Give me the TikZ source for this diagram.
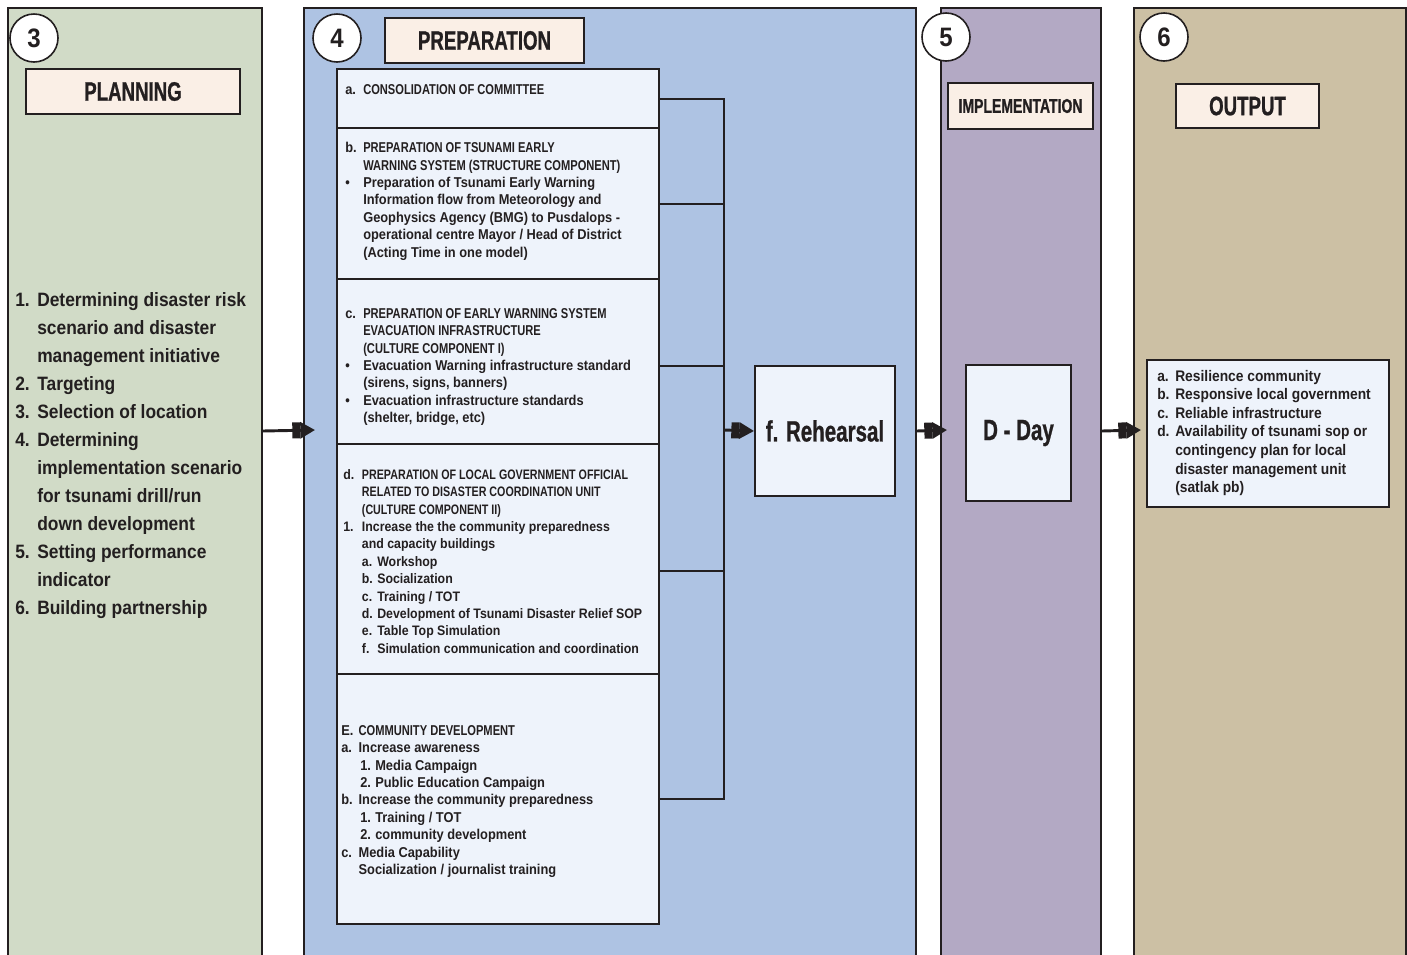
\documentclass[tikz,border=0pt]{standalone}
\usepackage{fontspec}
\setmainfont{Liberation Sans}[FakeStretch=0.9]
\newfontfamily\capsf{Liberation Sans}[FakeStretch=0.78]
\newfontfamily\headsf{Liberation Sans}[FakeStretch=0.7,FakeBold=0.8]
\usetikzlibrary{arrows.meta}
\definecolor{ink}{HTML}{231F20}
\definecolor{planbg}{HTML}{D1DBC7}
\definecolor{prepbg}{HTML}{AEC3E3}
\definecolor{implbg}{HTML}{B3A9C4}
\definecolor{outbg}{HTML}{CCC0A4}
\definecolor{cellbg}{HTML}{EEF3FB}
\definecolor{titlebg}{HTML}{FAEFE6}
% label of fixed width in front of a list line
\newcommand\itm[2][13.5pt]{\makebox[#1][l]{#2}}
\begin{document}
\begin{tikzpicture}[x=0.75pt, y=-0.75pt,
  sz/.style 2 args={minimum width=#1*0.75pt, minimum height=#2*0.75pt},
  panel/.style={draw=ink, line width=1.5pt, anchor=north west, inner sep=0},
  cell/.style={draw=ink, line width=1.5pt, fill=cellbg, anchor=north west, inner sep=0},
  headbox/.style={draw=ink, line width=1.5pt, fill=titlebg, anchor=north west, inner sep=0,
    text=ink, font=\headsf\bfseries\fontsize{20}{22}\selectfont},
  badge/.style={circle, draw=ink, line width=1.2pt, fill=white, minimum size=36pt,
    inner sep=0, text=ink, font=\bfseries\fontsize{20}{20}\selectfont},
  txt/.style={anchor=north west, align=left, inner sep=0, text=ink},
  prep/.style={txt, font=\bfseries\fontsize{10.7}{13.05}\selectfont},
  wire/.style={draw=ink, line width=1.5pt},
  arr/.style={draw=ink, line width=2.2pt,
    -{Rectangle[length=6pt,width=12pt]Triangle[length=11pt,width=12pt]}}
]
\useasboundingbox (0,0) rectangle (1407,954);

% the four stage columns
\node[panel, fill=planbg, sz={254}{963}] (p3) at (7,7) {};
\node[panel, fill=prepbg, sz={612}{963}] (p4) at (303,7) {};
\node[panel, fill=implbg, sz={160}{963}] (p5) at (940,7) {};
\node[panel, fill=outbg,  sz={272}{963}] (p6) at (1133,7) {};

% stage titles
\node[headbox, sz={214}{45}] (t3) at (25,68) {PLANNING};
\node[headbox, sz={199}{45}] (t4) at (384,17) {PREPARATION};
\node[headbox, sz={145}{46}, font=\headsf\bfseries\fontsize{15}{17}\selectfont] (t5) at (947,82) {IMPLEMENTATION};
\node[headbox, sz={143}{44}] (t6) at (1175,83) {OUTPUT};

% stage numbers
\node[badge] (n3) at (34,38) {3};
\node[badge] (n4) at (337,38) {4};
\node[badge] (n5) at (946,37) {5};
\node[badge] (n6) at (1164,37) {6};

% planning list
\node[txt, font=\bfseries\fontsize{14.5}{21}\selectfont] (plan) at (15,292) {%
\itm[16.5pt]{1.}Determining disaster risk\\
\itm[16.5pt]{}scenario and disaster\\
\itm[16.5pt]{}management initiative\\
\itm[16.5pt]{2.}Targeting\\
\itm[16.5pt]{3.}Selection of location\\
\itm[16.5pt]{4.}Determining\\
\itm[16.5pt]{}implementation scenario\\
\itm[16.5pt]{}for tsunami drill/run\\
\itm[16.5pt]{}down development\\
\itm[16.5pt]{5.}Setting performance\\
\itm[16.5pt]{}indicator\\
\itm[16.5pt]{6.}Building partnership};

% preparation cells
\node[cell, sz={322}{59}]  (ca) at (336,68) {};
\node[cell, sz={322}{151}] (cb) at (336,127) {};
\node[cell, sz={322}{165}] (cc) at (336,278) {};
\node[cell, sz={322}{230}] (cd) at (336,443) {};
\node[cell, sz={322}{250}] (ce) at (336,673) {};

\node[prep] (ta) at (345,84) {\itm{a.}{\capsf CONSOLIDATION OF COMMITTEE}};
\node[prep] (tb) at (345,142) {%
\itm{b.}{\capsf PREPARATION OF TSUNAMI EARLY}\\
\itm{}{\capsf WARNING SYSTEM (STRUCTURE COMPONENT)}\\
\itm{\textbullet}Preparation of Tsunami Early Warning\\
\itm{}Information flow from Meteorology and\\
\itm{}Geophysics Agency (BMG) to Pusdalops -\\
\itm{}operational centre Mayor / Head of District\\
\itm{}(Acting Time in one model)};
\node[prep] (tc) at (345,308) {%
\itm{c.}{\capsf PREPARATION OF EARLY WARNING SYSTEM}\\
\itm{}{\capsf EVACUATION INFRASTRUCTURE}\\
\itm{}{\capsf (CULTURE COMPONENT I)}\\
\itm{\textbullet}Evacuation Warning infrastructure standard\\
\itm{}(sirens, signs, banners)\\
\itm{\textbullet}Evacuation infrastructure standards\\
\itm{}(shelter, bridge, etc)};
\node[prep, font=\bfseries\fontsize{10.3}{13.05}\selectfont] (td) at (343,469) {%
\itm[14pt]{d.}{\capsf PREPARATION OF LOCAL GOVERNMENT OFFICIAL}\\
\itm[14pt]{}{\capsf RELATED TO DISASTER COORDINATION UNIT}\\
\itm[14pt]{}{\capsf (CULTURE COMPONENT II)}\\
\itm[14pt]{1.}Increase the the community preparedness\\
\itm[14pt]{}and capacity buildings\\
\itm[14pt]{}\itm[11.5pt]{a.}Workshop\\
\itm[14pt]{}\itm[11.5pt]{b.}Socialization\\
\itm[14pt]{}\itm[11.5pt]{c.}Training / TOT\\
\itm[14pt]{}\itm[11.5pt]{d.}Development of Tsunami Disaster Relief SOP\\
\itm[14pt]{}\itm[11.5pt]{e.}Table Top Simulation\\
\itm[14pt]{}\itm[11.5pt]{f.}Simulation communication and coordination};
\node[prep] (te) at (341,725) {%
\itm[13pt]{E.}{\capsf COMMUNITY DEVELOPMENT}\\
\itm[13pt]{a.}Increase awareness\\
\itm[14.25pt]{}\itm[11.25pt]{1.}Media Campaign\\
\itm[14.25pt]{}\itm[11.25pt]{2.}Public Education Campaign\\
\itm[13pt]{b.}Increase the community preparedness\\
\itm[14.25pt]{}\itm[11.25pt]{1.}Training / TOT\\
\itm[14.25pt]{}\itm[11.25pt]{2.}community development\\
\itm[13pt]{c.}Media Capability\\
\itm[13pt]{}Socialization / journalist training};

% rehearsal, D-day and output boxes
\node[cell, sz={140}{130}, font=\headsf\bfseries\fontsize{22}{24}\selectfont, text=ink] (reh) at (754,365) {f. Rehearsal};
\node[cell, sz={105}{136}, font=\headsf\bfseries\fontsize{22}{24}\selectfont, text=ink] (dday) at (965,364) {D - Day};
\node[cell, sz={242}{147}] (res) at (1146,359) {};
\node[txt, font=\bfseries\fontsize{11.5}{13.9}\selectfont] (tres) at (1157,370) {%
\itm{a.}Resilience community\\
\itm{b.}Responsive local government\\
\itm{c.}Reliable infrastructure\\
\itm{d.}Availability of tsunami sop or\\
\itm{}contingency plan for local\\
\itm{}disaster management unit\\
\itm{}(satlak pb)};

% bus collecting the preparation cells
\coordinate (bus) at (724,430);
\draw[wire] (ca.east) -- (ca.east -| bus) -- (ce.east -| bus) -- (ce.east);
\draw[wire] (cb.east) -- (cb.east -| bus);
\draw[wire] ([yshift=-3.4pt]cc.east) -- ([yshift=-3.4pt]cc.east -| bus);
\draw[wire] ([yshift=-9pt]cd.east) -- ([yshift=-9pt]cd.east -| bus);
\draw[arr] (bus) -- (reh.west);

% flow between the stages
\coordinate (in4) at (315,430);
\coordinate (in5) at (947,430);
\coordinate (in6) at (1141,430);
\draw[arr] (p3.east |- reh.west) -- (in4);
\draw[arr] (p4.east |- reh.west) -- (in5);
\draw[arr] (p5.east |- reh.west) -- (in6);
\end{tikzpicture}
\end{document}
